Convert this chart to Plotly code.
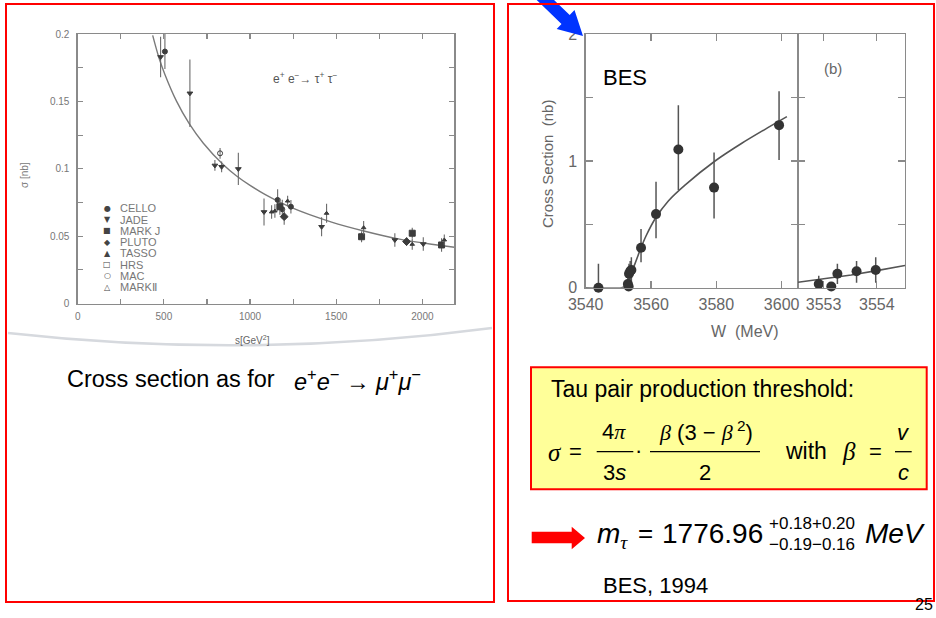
import plotly.graph_objects as go

W, H = 936, 618
SANS = "Liberation Sans, Arial, sans-serif"
SERIF = "Liberation Serif, Times New Roman, serif"


def px(x):
    return x / W


def py(y):
    return 1 - y / H


# ---------------- Left plot: e+e- -> tau+tau- (sigma vs s) ----------------
cello_s = [506, 1160, 1187, 1237]
cello_sig = [0.187, 0.0769, 0.070, 0.0719]
cello_err = [0.013, 0.008, 0.007, 0.005]

jade_s = [481, 651, 796, 835, 932, 1081, 1415, 1840, 2005]
jade_sig = [0.183, 0.156, 0.1025, 0.1015, 0.0999, 0.068, 0.057, 0.0472, 0.0442]
jade_err = [0.015, 0.025, 0.004, 0.004, 0.012, 0.010, 0.007, 0.005, 0.005]

markj_s = [1173, 1647, 1941, 2111]
markj_sig = [0.0719, 0.0496, 0.0522, 0.0435]
markj_err = [0.006, 0.004, 0.004, 0.005]

pluto_s = [1198, 1908]
pluto_sig = [0.0645, 0.046]
pluto_err = [0.006, 0.003]

tasso_s = [1125, 1144, 1218, 1444, 1659, 1941, 2127]
tasso_sig = [0.068, 0.0687, 0.0761, 0.067, 0.0563, 0.044, 0.0472]
tasso_err = [0.005, 0.005, 0.004, 0.007, 0.005, 0.004, 0.004]

mac_s = [826]
mac_sig = [0.1115]
mac_err = [0.004]

qed_s = [435, 470, 506, 574, 647, 729, 845, 922, 1000, 1086, 1241, 1473, 1666, 1860, 2053, 2185]
qed_sig = [0.199, 0.183, 0.170, 0.150, 0.1335, 0.119, 0.103, 0.0947, 0.0877, 0.081,
           0.0712, 0.0605, 0.0537, 0.048, 0.044, 0.0418]

left_xticks = [0, 250, 500, 750, 1000, 1250, 1500, 1750, 2000]
left_xlabels = ["0", "", "500", "", "1000", "", "1500", "", "2000"]
left_yticks = [0, 0.025, 0.05, 0.075, 0.1, 0.125, 0.15, 0.175, 0.2]
left_ylabels = ["0", "", "0.05", "", "0.1", "", "0.15", "", "0.2"]

legend_names = ["CELLO", "JADE", "MARK J", "PLUTO", "TASSO", "HRS", "MAC", "MARK\u2161"]
legend_glyphs = ["\u25cf", "\u25bc", "\u25a0", "\u25c6", "\u25b2", "\u25a1", "\u25cb", "\u25b3"]

# ---------------- Right plot: BES threshold scan ----------------
bes_W = [3543.9, 3552.91, 3553.145, 3553.26, 3553.62, 3553.98, 3556.94, 3561.53, 3568.37, 3579.3, 3599.2]
bes_sig = [0.0, 0.029, 0.01, 0.11, 0.13, 0.14, 0.315, 0.581, 1.091, 0.79, 1.283]
bes_err_up = [0.19, 0.066, 0.0, 0.08, 0.08, 0.10, 0.148, 0.255, 0.35, 0.278, 0.268]
bes_err_dn = [0.0, 0.0, 0.0, 0.08, 0.09, 0.10, 0.115, 0.19, 0.32, 0.243, 0.276]

fit_a_W = [3540.0, 3551.0, 3552.04, 3553.57, 3555.1, 3556.85, 3558.5, 3561.4, 3565.3, 3570.4,
           3579.6, 3587.8, 3595.9, 3601.6]
fit_a_sig = [0.0, 0.0, 0.008, 0.087, 0.19, 0.31, 0.41, 0.55, 0.685, 0.81, 1.0, 1.14, 1.265, 1.35]

fit_b_W = [3552.52, 3553.0, 3553.52, 3554.0, 3554.53]
fit_b_sig = [0.043, 0.07, 0.10, 0.135, 0.175]

b_range = [3552.52, 3554.53]

fig = go.Figure()

ERR_L = dict(type="data", visible=True, color="#6a6a6a", thickness=1.1, width=0)


def left_series(name, s, sig, err, symbol, size=5):
    fig.add_trace(go.Scatter(
        x=s, y=sig, mode="markers", name=name, xaxis="x", yaxis="y",
        marker=dict(symbol=symbol, size=size, color="#3c3c3c",
                    line=dict(color="#3c3c3c", width=1)),
        error_y=dict(array=err, **ERR_L), showlegend=False))


fig.add_trace(go.Scatter(x=qed_s, y=qed_sig, mode="lines", xaxis="x", yaxis="y",
                         line=dict(color="#7a7a7a", width=1.4, shape="spline", smoothing=0.8),
                         showlegend=False))
left_series("CELLO", cello_s, cello_sig, cello_err, "circle", 5)
left_series("JADE", jade_s, jade_sig, jade_err, "triangle-down", 5)
left_series("MARK J", markj_s, markj_sig, markj_err, "square", 6)
left_series("PLUTO", pluto_s, pluto_sig, pluto_err, "diamond", 6)
left_series("TASSO", tasso_s, tasso_sig, tasso_err, "triangle-up", 4)
left_series("MAC", mac_s, mac_sig, mac_err, "circle-open", 5)

# BES panel (a)
fig.add_trace(go.Scatter(x=fit_a_W, y=fit_a_sig, mode="lines", xaxis="x2", yaxis="y2",
                         line=dict(color="#555555", width=1.6, shape="spline", smoothing=0.8),
                         showlegend=False))
ERR_B = dict(type="data", visible=True, color="#555555", thickness=1.5, width=0)
fig.add_trace(go.Scatter(x=bes_W, y=bes_sig, mode="markers", xaxis="x2", yaxis="y2",
                         marker=dict(size=10, color="#333333"),
                         error_y=dict(array=bes_err_up, arrayminus=bes_err_dn, **ERR_B),
                         cliponaxis=False, showlegend=False))

# BES panel (b): same data, zoomed to threshold
sel = [i for i, w in enumerate(bes_W) if b_range[0] <= w <= b_range[1]]
fig.add_trace(go.Scatter(x=fit_b_W, y=fit_b_sig, mode="lines", xaxis="x3", yaxis="y3",
                         line=dict(color="#555555", width=1.6), showlegend=False))
fig.add_trace(go.Scatter(x=[bes_W[i] for i in sel], y=[bes_sig[i] for i in sel],
                         mode="markers", xaxis="x3", yaxis="y3",
                         marker=dict(size=10, color="#333333"),
                         error_y=dict(array=[bes_err_up[i] for i in sel],
                                      arrayminus=[bes_err_dn[i] for i in sel], **ERR_B),
                         cliponaxis=False, showlegend=False))

AX_L = dict(showline=True, linecolor="#8a8a8a", linewidth=1.3, mirror="ticks",
            ticks="inside", ticklen=5, tickcolor="#8a8a8a", tickwidth=1.2,
            showgrid=False, zeroline=False, automargin=False,
            tickfont=dict(size=10, color="#777777", family=SANS))
AX_B = dict(showline=True, linecolor="#8a8a8a", linewidth=1.4, mirror="ticks",
            ticks="inside", ticklen=7, tickcolor="#8a8a8a", tickwidth=1.4,
            showgrid=False, zeroline=False, automargin=False,
            tickfont=dict(size=16, color="#666666", family=SANS))

SPLIT = 798.0  # shared border between panels (a) and (b)

fig.update_layout(
    width=W, height=H, autosize=False,
    margin=dict(l=0, r=0, t=0, b=0, pad=0, autoexpand=False),
    paper_bgcolor="white", plot_bgcolor="white", showlegend=False,
    xaxis=dict(domain=[px(77.7), px(454.3)], range=[0, 2185], anchor="y",
               tickvals=left_xticks, ticktext=left_xlabels, ticklabelstandoff=3, **AX_L),
    yaxis=dict(domain=[py(303.6), py(34)], range=[0, 0.2], anchor="x",
               tickvals=left_yticks, ticktext=left_ylabels, ticklabelstandoff=5, **AX_L),
    xaxis2=dict(domain=[px(585.7), px(SPLIT)], range=[3540, 3605], anchor="y2",
                tickvals=[3540, 3560, 3580, 3600], ticktext=["3540", "3560", "3580", "3600"],
                ticklabelstandoff=2, **AX_B),
    yaxis2=dict(domain=[py(287.7), py(34.3)], range=[0, 2], anchor="x2",
                tickvals=[0, 0.5, 1, 1.5, 2], ticktext=["0", "", "1", "", "2"],
                ticklabelstandoff=4, **AX_B),
    xaxis3=dict(domain=[px(SPLIT), px(905)], range=b_range, anchor="y3",
                tickvals=[3553, 3554], ticktext=["3553", "3554"], ticklabelstandoff=2, **AX_B),
    yaxis3=dict(domain=[py(287.7), py(34.3)], range=[0, 2], anchor="x3",
                tickvals=[0, 0.5, 1, 1.5, 2], showticklabels=False, **AX_B),
)


def txt(x, y, text, size, color="black", family=SANS, xanchor="center", angle=0):
    fig.add_annotation(x=px(x), y=py(y), xref="paper", yref="paper", text=text,
                       showarrow=False, xanchor=xanchor, yanchor="middle", textangle=angle,
                       font=dict(size=size, color=color, family=family), borderpad=0)


def line(x0, y0, x1, y1, color="black", width=1.3):
    fig.add_shape(type="line", xref="paper", yref="paper", x0=px(x0), y0=py(y0),
                  x1=px(x1), y1=py(y1), line=dict(color=color, width=width))


def poly(points, fill, line_color=None, width=0):
    d = "M " + " L ".join(f"{px(a):.5f},{py(b):.5f}" for a, b in points) + " Z"
    fig.add_shape(type="path", xref="paper", yref="paper", path=d, fillcolor=fill,
                  line=dict(color=line_color or fill, width=width))


# faint page curl of the scanned figure
fig.add_shape(type="path", xref="paper", yref="paper",
              path=f"M {px(8)},{py(333)} Q {px(250)},{py(360)} {px(492)},{py(328)}",
              line=dict(color="#d6d9de", width=2.5))

# left plot texts
txt(271.7, 78, "e<sup>+</sup> e<sup>\u2212</sup>\u2192 \u03c4<sup>+</sup> \u03c4<sup>\u2212</sup>",
    12, "#555555", xanchor="left")
txt(24, 175, "\u03c3 [nb]", 10, "#777777", angle=-90)
txt(252, 340, "s[GeV<sup>2</sup>]", 10, "#666666")
legend_top, legend_step = 208.3, 11.25
for i, (g, n) in enumerate(zip(legend_glyphs, legend_names)):
    yy = legend_top + i * legend_step
    txt(107.3, yy, g, 8, "#444444", family="DejaVu Sans")
    txt(119, yy, n, 11, "#777777", xanchor="left")

txt(66, 379, "Cross section as for", 23.5, xanchor="left")
txt(293, 380, "<i>e</i><sup>+</sup><i>e</i><sup>\u2212</sup> \u2192 "
              "<i>\u03bc</i><sup>+</sup><i>\u03bc</i><sup>\u2212</sup>", 23.5, xanchor="left")

# right plot texts
txt(625, 77, "BES", 22)
txt(833, 68, "(b)", 15, "#666666")
txt(548, 164, "Cross Section  (nb)", 15, "#666666", angle=-90)
txt(745, 332, "W  (MeV)", 16, "#666666")

# yellow formula box
fig.add_shape(type="rect", xref="paper", yref="paper", x0=px(531), y0=py(367.3),
              x1=px(926.7), y1=py(489.3), fillcolor="#ffff99",
              line=dict(color="#ff0000", width=2))
txt(550, 389, "Tau pair production threshold:", 23, xanchor="left")
txt(555, 452, "<i>\u03c3</i>", 25, family=SERIF)
txt(575, 451, "=", 22)
txt(614, 431, "4<span style='font-family:Liberation Serif'><i>\u03c0</i></span>", 22)
line(596.7, 451.7, 633.3, 451.7)
txt(614, 472, "3<i>s</i>", 22)
txt(638, 450, "\u00b7", 22)
txt(706, 431, "<span style='font-family:Liberation Serif'><i>\u03b2</i></span> (3 \u2212 "
              "<span style='font-family:Liberation Serif'><i>\u03b2</i></span><sup> 2</sup>)", 22)
line(650, 451.7, 760, 451.7)
txt(705, 472, "2", 22)
txt(806, 451, "with", 23)
txt(849, 451, "<i>\u03b2</i>", 25, family=SERIF)
txt(875, 451, "=", 22)
txt(903, 432, "<i>v</i>", 22)
line(895, 451.7, 911.7, 451.7)
txt(903, 472, "<i>c</i>", 22)

# result line
poly([(531.7, 531.7), (571.7, 531.7), (571.7, 526.7), (585, 538), (571.7, 549.3),
      (571.7, 543.3), (531.7, 543.3)], "#ff0000")
txt(596, 535, "<i>m</i><sub><span style='font-family:Liberation Serif'><i>\u03c4</i></span></sub>",
    28, xanchor="left")
txt(645, 533, "=", 26)
txt(661, 533, "1776.96", 28, xanchor="left")
txt(768, 523, "+0.18+0.20", 17, xanchor="left")
txt(768, 544, "\u22120.19\u22120.16", 17, xanchor="left")
txt(864, 533, "<i>MeV</i>", 28, xanchor="left")
txt(602, 585, "BES, 1994", 22, xanchor="left")
txt(934, 604, "25", 16, xanchor="right")

# blue arrow pointing at the BES plot corner
poly([(530.9, -5.6), (561.5, 23.9), (556.7, 28.9), (583, 36), (574.5, 10.1),
      (569.7, 15.1), (539.1, -14.4)], "#0033ff")

# red slide panel borders
fig.add_shape(type="rect", xref="paper", yref="paper", x0=px(6), y0=py(602),
              x1=px(494), y1=py(4), line=dict(color="#ff0000", width=2))
fig.add_shape(type="rect", xref="paper", yref="paper", x0=px(508), y0=py(601),
              x1=px(934), y1=py(4), line=dict(color="#ff0000", width=2))

fig.write_html("out.html",
               config={"displayModeBar": False, "staticPlot": True},
               post_script="document.body.style.margin='0';"
                           "document.body.style.overflow='hidden';")
